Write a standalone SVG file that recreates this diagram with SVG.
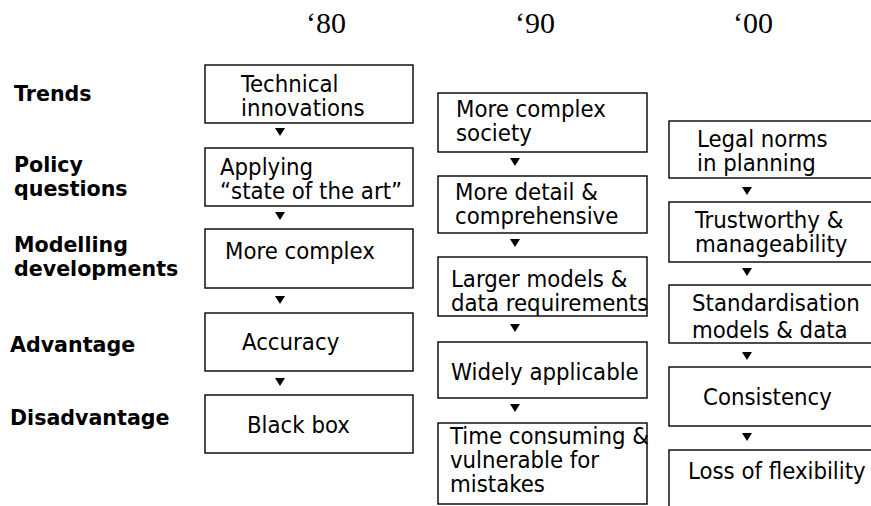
<svg xmlns="http://www.w3.org/2000/svg" width="871" height="506" viewBox="0 0 871 506">
<style>
.box{fill:#fff;stroke:#000;stroke-width:1.4}
.t{font-family:"DejaVu Sans Condensed","DejaVu Sans",sans-serif;font-stretch:condensed;font-size:23.7px;fill:#000}
.lab{font-family:"DejaVu Sans","Liberation Sans",sans-serif;font-weight:bold;font-size:20.6px;fill:#000}
.yr{font-family:"Liberation Serif",serif;font-size:30px;fill:#000}
.arr{fill:#000}
</style>
<defs>
<polygon id="tri" points="-5,-4 5,-4 0,4"/>
</defs>
<g id="years">
<text class="yr" x="306" y="33">‘80</text>
<text class="yr" x="515" y="33">‘90</text>
<text class="yr" x="733" y="33">‘00</text>
</g>
<g id="labels">
<text class="lab" x="14" y="101">Trends</text>
<text class="lab" x="14" y="172">Policy</text>
<text class="lab" x="14" y="196">questions</text>
<text class="lab" x="14" y="252">Modelling</text>
<text class="lab" x="14" y="276">developments</text>
<text class="lab" x="10" y="352">Advantage</text>
<text class="lab" x="10" y="425">Disadvantage</text>
</g>
<g id="connectors">
<use href="#tri" class="arr" x="280" y="132"/>
<use href="#tri" class="arr" x="280" y="216"/>
<use href="#tri" class="arr" x="280" y="300"/>
<use href="#tri" class="arr" x="280" y="382"/>
<use href="#tri" class="arr" x="515" y="162"/>
<use href="#tri" class="arr" x="515" y="243"/>
<use href="#tri" class="arr" x="515" y="328"/>
<use href="#tri" class="arr" x="515" y="408"/>
<use href="#tri" class="arr" x="747" y="191"/>
<use href="#tri" class="arr" x="747" y="272"/>
<use href="#tri" class="arr" x="747" y="356"/>
<use href="#tri" class="arr" x="747" y="437"/>
</g>
<g id="c1n1"><rect class="box" x="205" y="65" width="208" height="58"/><text class="t" x="241" y="92">Technical</text><text class="t" x="241" y="116">innovations</text></g>
<g id="c1n2"><rect class="box" x="205" y="148" width="208" height="58"/><text class="t" x="220" y="175">Applying</text><text class="t" x="220" y="199">“state of the art”</text></g>
<g id="c1n3"><rect class="box" x="205" y="229" width="208" height="59"/><text class="t" x="225" y="259">More complex</text></g>
<g id="c1n4"><rect class="box" x="205" y="313" width="208" height="58"/><text class="t" x="242" y="350">Accuracy</text></g>
<g id="c1n5"><rect class="box" x="205" y="395" width="208" height="58"/><text class="t" x="247" y="433">Black box</text></g>
<g id="c2n1"><rect class="box" x="438" y="93" width="209" height="59"/><text class="t" x="456" y="117">More complex</text><text class="t" x="456" y="141">society</text></g>
<g id="c2n2"><rect class="box" x="438" y="176" width="209" height="57"/><text class="t" x="455" y="200">More detail &amp;</text><text class="t" x="455" y="224">comprehensive</text></g>
<g id="c2n3"><rect class="box" x="438" y="257" width="209" height="59"/><text class="t" x="451" y="287">Larger models &amp;</text><text class="t" x="451" y="311">data requirements</text></g>
<g id="c2n4"><rect class="box" x="438" y="342" width="209" height="56"/><text class="t" x="451" y="380">Widely applicable</text></g>
<g id="c2n5"><rect class="box" x="438" y="423" width="209" height="81"/><text class="t" x="450" y="444">Time consuming &amp;</text><text class="t" x="450" y="468">vulnerable for</text><text class="t" x="450" y="492">mistakes</text></g>
<g id="c3n1"><rect class="box" x="669" y="121" width="220" height="57"/><text class="t" x="697" y="147">Legal norms</text><text class="t" x="697" y="171">in planning</text></g>
<g id="c3n2"><rect class="box" x="669" y="202" width="220" height="60"/><text class="t" x="695" y="228">Trustworthy &amp;</text><text class="t" x="695" y="252">manageability</text></g>
<g id="c3n3"><rect class="box" x="669" y="285" width="220" height="58"/><text class="t" x="692" y="311">Standardisation</text><text class="t" x="692" y="338">models &amp; data</text></g>
<g id="c3n4"><rect class="box" x="669" y="367" width="220" height="59"/><text class="t" x="703" y="405">Consistency</text></g>
<g id="c3n5"><rect class="box" x="669" y="450" width="220" height="70"/><text class="t" x="688" y="479">Loss of flexibility</text></g>
</svg>
